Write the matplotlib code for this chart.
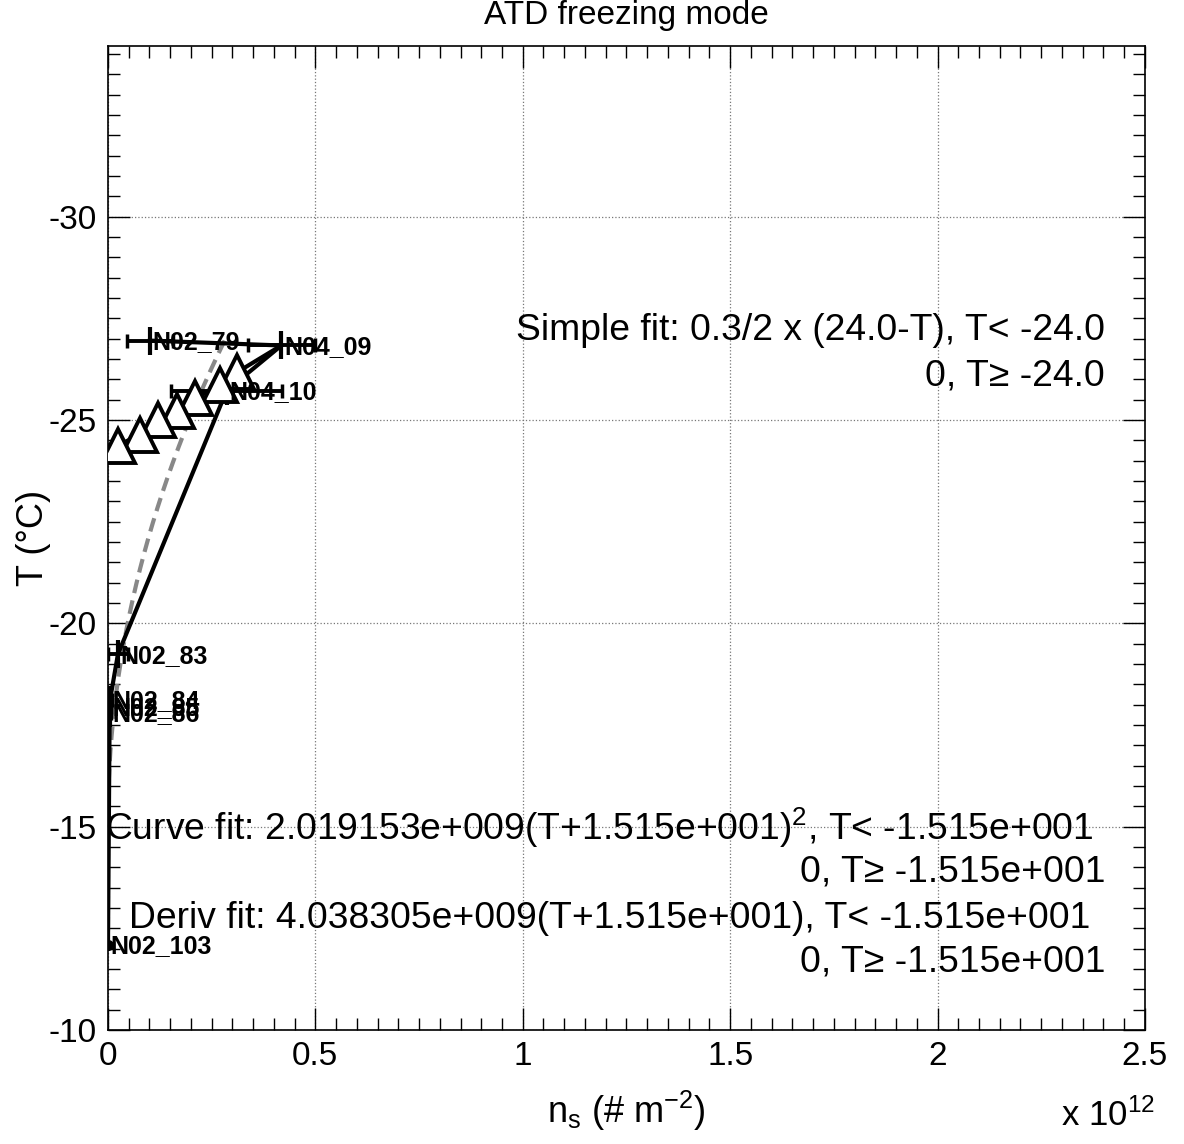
import numpy as np
import matplotlib.pyplot as plt
from matplotlib import ticker

plt.rcParams["font.family"] = ["Liberation Sans", "DejaVu Sans"]
plt.rcParams["mathtext.default"] = "regular"

# measured points, x in units of 1e12 per m^2
names = ["N02_103", "N02_86", "N02_85", "N02_84", "N02_83", "N04_10", "N04_09", "N02_79"]
ns = [0.0, 0.004, 0.004, 0.005, 0.024, 0.286, 0.418, 0.101]
ns_err = [0.002, 0.004, 0.004, 0.004, 0.024, 0.133, 0.08, 0.055]
temp = [-12.09, -17.80, -17.95, -18.12, -19.24, -25.72, -26.83, -26.95]

# arrow path with triangle heads
tri_ns = [0.418, 0.311, 0.270, 0.210, 0.166, 0.120, 0.077, 0.024]
tri_t = [-26.83, -26.17, -25.85, -25.55, -25.23, -24.99, -24.64, -24.37]

# fit coefficients as printed on the chart
curve_a = 2.019153e9
curve_t0 = -15.15
scale = 1e12

fig = plt.figure(figsize=(11.84, 11.44), dpi=100)
ax = fig.add_axes([0.0912, 0.0997, 0.8758, 0.8603])

## curve fit (grey dashed)
t_fit = np.linspace(min(temp), max(temp), 200)
n_fit = np.where(t_fit < curve_t0, curve_a * (t_fit - curve_t0) ** 2, 0.0) / scale
ax.plot(n_fit, t_fit, color="#888888", lw=3, ls=(0, (3.3, 1.8)), zorder=2)

## data polyline and error bars
ax.plot(ns, temp, color="black", lw=3, zorder=3)
ax.errorbar(ns[1:], temp[1:], xerr=ns_err[1:], fmt="none", ecolor="black",
            elinewidth=2.8, capsize=5, capthick=2.5, zorder=4)
ax.plot(ns[1:], temp[1:], ls="none", marker="|", ms=20, mew=3, color="black", zorder=4)
ax.plot(ns[0], temp[0], ls="none", marker="o", ms=7, color="black", zorder=4)

## triangle path
ax.plot(tri_ns, tri_t, color="black", lw=3, zorder=3)
ax.plot(tri_ns[1:], tri_t[1:], ls="none", marker="^", ms=25, mfc="white",
        mec="black", mew=2.8, zorder=5)

for n, t, lab in zip(ns, temp, names):
    ax.annotate(lab, (n, t), xytext=(2, -1), textcoords="offset points",
                ha="left", va="center", fontsize=18, fontweight="bold", zorder=6)

## fit texts
fs = 26.8
ax.text(1105 / 1184, 1 - 330 / 1144, "Simple fit: 0.3/2 x (24.0-T), T< -24.0",
        transform=fig.transFigure, ha="right", va="center", fontsize=fs)
ax.text(1105 / 1184, 1 - 376 / 1144, "0, T\u2265 -24.0",
        transform=fig.transFigure, ha="right", va="center", fontsize=fs)
ax.text(1093 / 1184, 1 - 828 / 1144,
        "Curve fit: 2.019153e+009(T+1.515e+001)$^{2}$, T< -1.515e+001",
        transform=fig.transFigure, ha="right", va="center", fontsize=fs)
ax.text(1105 / 1184, 1 - 872 / 1144, "0, T\u2265 -1.515e+001",
        transform=fig.transFigure, ha="right", va="center", fontsize=fs)
ax.text(1090 / 1184, 1 - 918 / 1144,
        "Deriv fit: 4.038305e+009(T+1.515e+001), T< -1.515e+001",
        transform=fig.transFigure, ha="right", va="center", fontsize=fs)
ax.text(1105 / 1184, 1 - 962 / 1144, "0, T\u2265 -1.515e+001",
        transform=fig.transFigure, ha="right", va="center", fontsize=fs)

## axes, ticks, grid
ax.set_xlim(0, 2.5)
ax.set_ylim(-10, -34.2)
ax.xaxis.set_major_locator(ticker.MultipleLocator(0.5))
ax.xaxis.set_minor_locator(ticker.MultipleLocator(0.05))
ax.yaxis.set_major_locator(ticker.MultipleLocator(5))
ax.yaxis.set_minor_locator(ticker.MultipleLocator(0.5))
ax.xaxis.set_major_formatter(ticker.FuncFormatter(lambda v, p: f"{v:g}"))
ax.yaxis.set_major_formatter(ticker.FuncFormatter(lambda v, p: f"{v:g}"))
ax.tick_params(which="both", direction="in", top=True, right=True, width=1,
               labelsize=24, pad=8)
ax.tick_params(which="major", length=16)
ax.tick_params(which="minor", length=8.5)
ax.grid(which="major", color="#777777", ls=":", lw=0.9)
for s in ax.spines.values():
    s.set_linewidth(1.2)

ax.set_title("ATD freezing mode", fontsize=24, pad=16)
ax.set_xlabel("n$_{s}$ (# m$^{-2}$)", fontsize=26, labelpad=12)
ax.set_ylabel("T (\u00b0C)", fontsize=26)
ax.yaxis.set_label_coords(-0.055, 0.5)
fig.text(1108 / 1184, 1 - 1116 / 1144, "x 10$^{12}$", ha="center",
         va="center", fontsize=25)

fig.savefig("out.png", dpi=100)
